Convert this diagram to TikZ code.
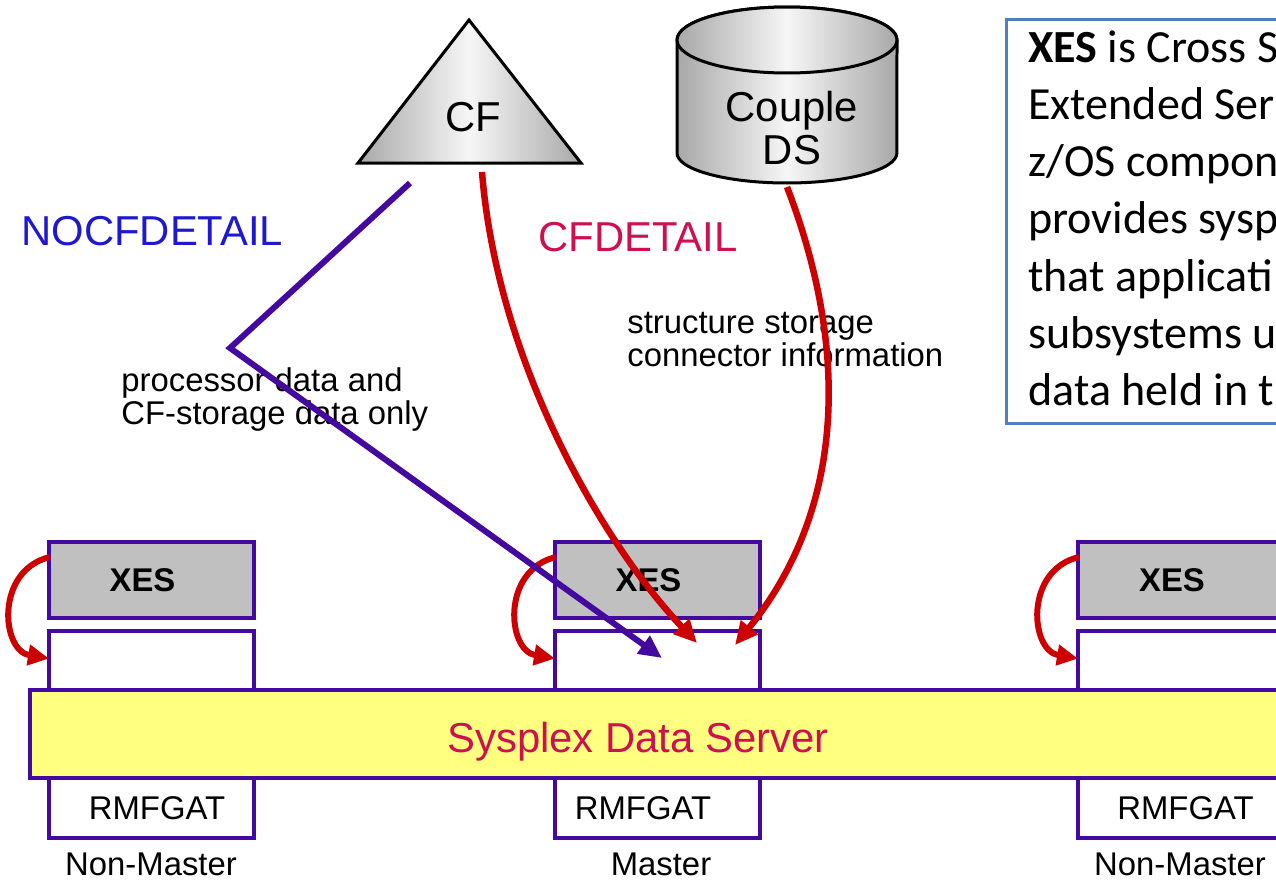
\documentclass[tikz,border=0pt]{standalone}
\usepackage{fontspec}
\setmainfont{Liberation Sans}
\newfontfamily\notefont{Carlito}
\usetikzlibrary{arrows.meta,calc}

\definecolor{frameviolet}{RGB}{68,10,160}
\definecolor{flowred}{RGB}{204,0,0}
\definecolor{labelblue}{RGB}{30,25,205}
\definecolor{detailred}{RGB}{204,16,80}
\definecolor{xesgray}{RGB}{192,192,192}
\definecolor{busyellow}{RGB}{255,255,128}
\definecolor{noteblue}{RGB}{79,129,189}
\definecolor{shadeedge}{RGB}{168,168,168}
\definecolor{shadelight}{RGB}{246,246,246}

\newcommand\fsbig{\fontsize{23.8}{24.4}\selectfont}
\newcommand\fssmall{\fontsize{18.7}{18.7}\selectfont}

\begin{document}
\begin{tikzpicture}[
  x=0.02cm, y=-0.02cm,
  unitbox/.style={draw=frameviolet, line width=0.07cm, inner sep=0pt, outer sep=0pt,
    minimum width=4.1cm, anchor=north west, font=\fssmall},
  xesbox/.style={unitbox, fill=xesgray, minimum height=1.52cm, font=\fssmall\bfseries},
  slotbox/.style={unitbox, fill=white, minimum height=1.18cm},
  rmfbox/.style={unitbox, fill=white, minimum height=1.2cm},
  busbox/.style={draw=frameviolet, line width=0.07cm, fill=busyellow, inner sep=0pt,
    outer sep=0pt, anchor=north west, minimum width=26cm, minimum height=1.76cm},
  sitelabel/.style={anchor=base, inner sep=0pt, font=\fssmall},
  flowarrow/.style={draw=flowred, line width=0.13cm,
    -{Triangle[length=0.46cm, width=0.42cm]}},
  looparrow/.style={draw=flowred, line width=0.12cm,
    -{Triangle[length=0.42cm, width=0.4cm]}},
  dataarrow/.style={draw=frameviolet, line width=0.12cm,
    -{Triangle[length=0.46cm, width=0.42cm]}},
  shapeline/.style={draw=black, line width=0.06cm, left color=shadeedge,
    right color=shadeedge, middle color=shadelight}
]
\useasboundingbox (0,0) rectangle (1276,880);
\clip (0,0) rectangle (1276,880);

% coupling facility
\shade[shapeline] (358,163) -- (469,20) -- (581,163) -- cycle;
\node[font=\fsbig] (cf) at (473,117) {CF};

% couple data set
\shade[shapeline] (677,40) -- (677,153)
  arc[start angle=180, end angle=360, x radius=2.2cm, y radius=0.6cm]
  -- (897,40)
  arc[start angle=0, end angle=180, x radius=2.2cm, y radius=0.66cm] -- cycle;
\shade[shapeline] (787,40) ellipse[x radius=2.2cm, y radius=0.66cm];
\node[font=\fsbig, align=center] (ds) at (792,128) {Couple\\DS};

% explanatory note
\draw[noteblue, line width=0.06cm] (1006,19) rectangle (1330,423);
\node[anchor=north west, inner sep=0pt, align=left,
      font=\notefont\fontsize{26.2}{32.6}\selectfont] (note) at (1028,30)
  {\textbf{XES} is Cross S\\Extended Ser\\z/OS compon\\provides sysp\\that applicati\\subsystems u\\data held in t};

% detail level labels
\node[anchor=west, inner sep=0pt, text=labelblue, font=\fsbig] (nocf) at (21,231) {NOCFDETAIL};
\node[anchor=west, inner sep=0pt, text=detailred, font=\fsbig] (cfd) at (538,237) {CFDETAIL};
\node[anchor=north west, inner sep=0pt, align=left, font=\fssmall] (cfinfo) at (627,312)
  {structure storage\\connector information};
\node[anchor=north west, inner sep=0pt, align=left, font=\fssmall] (procinfo) at (121,367)
  {processor data and\\CF-storage data only};

% systems
\node[xesbox] (xesL) at (49,542) {XES\kern0.36cm};
\node[slotbox] (slotL) at (49,631) {};
\node[xesbox] (xesM) at (555,542) {XES\kern0.36cm};
\node[slotbox] (slotM) at (555,631) {};
\node[xesbox] (xesR) at (1078,542) {XES\kern0.34cm};
\node[slotbox] (slotR) at (1078,631) {};

\node[busbox] (bus) at (30,690) {};
\node[text=detailred, font=\fsbig] (busname) at (638,742) {Sysplex Data Server};

\node[rmfbox] (rmfL) at (49,778) {\kern0.22cm RMFGAT};
\node[rmfbox] (rmfM) at (555,778) {RMFGAT\kern0.58cm};
\node[rmfbox] (rmfR) at (1078,778) {\kern0.2cm RMFGAT};

\node[sitelabel] (siteL) at (151,875) {Non-Master};
\node[sitelabel] (siteM) at (661,875) {Master};
\node[sitelabel] (siteR) at (1180,875) {Non-Master};

% XES hand-off inside each system
\draw[looparrow] ($(xesL.north west)+(1,15)$) .. controls +(-55,13) and +(-48,-8) .. ($(slotL.west)+(0,-2)$);
\draw[looparrow] ($(xesM.north west)+(1,15)$) .. controls +(-55,13) and +(-48,-8) .. ($(slotM.west)+(0,-2)$);
\draw[looparrow] ($(xesR.north west)+(1,15)$) .. controls +(-55,13) and +(-48,-8) .. ($(slotR.west)+(0,-2)$);

% data flows into the master
\coordinate (cfTail) at (482,172);
\coordinate (cfSide) at (410,183);
\coordinate (bend) at (230,348);
\coordinate (dsTail) at (787,187);
\coordinate (procIn) at ($(slotM.north west)+(107,27)$);
\coordinate (cfIn) at ($(slotM.north west)+(142,12)$);
\coordinate (dsIn) at ($(slotM.north west)+(180,14)$);

\draw[dataarrow] (cfSide) -- (bend) -- (procIn);
\draw[flowarrow] (cfTail) .. controls (497,360) and (600,540) .. (cfIn);
\draw[flowarrow] (dsTail) .. controls (850,350) and (845,510) .. (dsIn);
\end{tikzpicture}
\end{document}
